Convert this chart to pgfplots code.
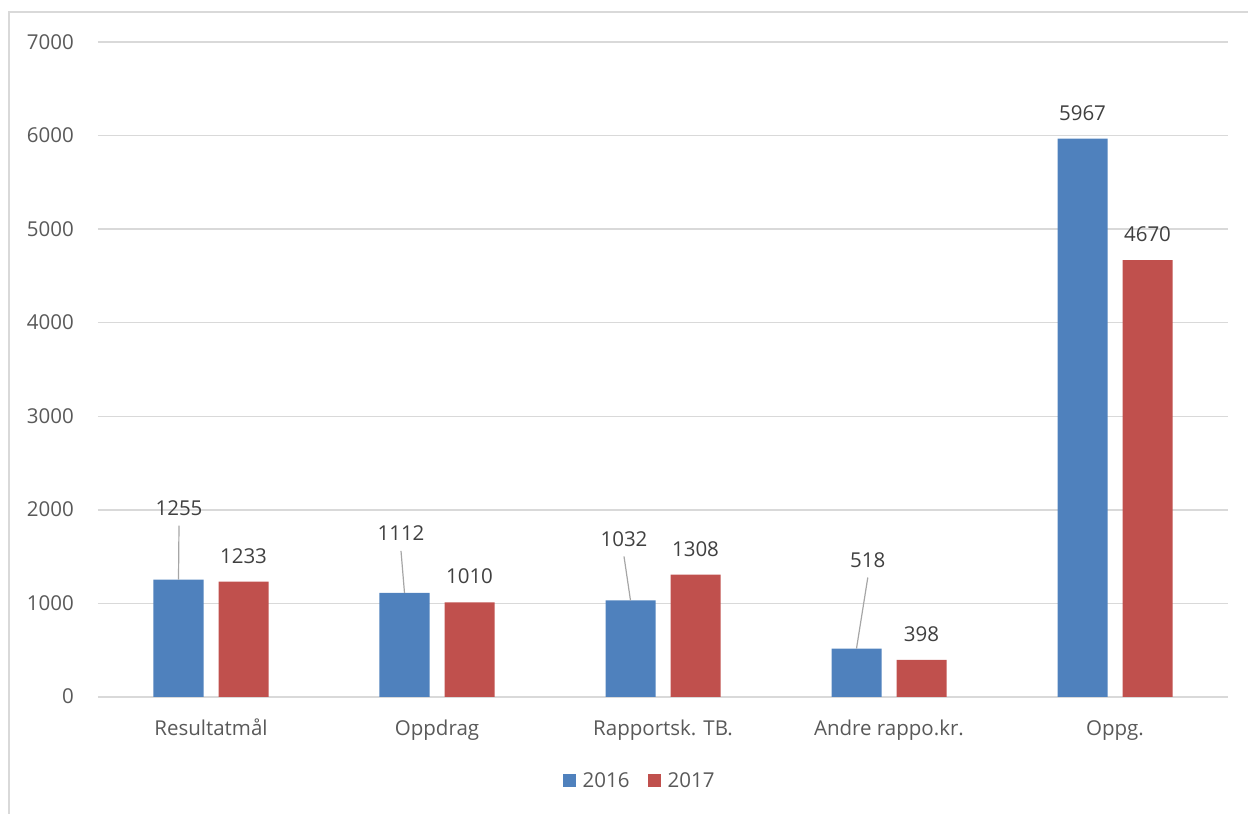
\documentclass[border=0pt]{standalone}
\usepackage{fontspec}
\setmainfont{Open Sans}
\usepackage{pgfplots}
\pgfplotsset{compat=1.18}
\definecolor{gridc}{HTML}{D9D9D9}
\definecolor{tickc}{HTML}{595959}
\definecolor{labc}{HTML}{404040}
\definecolor{blueb}{HTML}{4F81BD}
\definecolor{redb}{HTML}{C0504D}
\definecolor{leadc}{HTML}{A6A6A6}
\newcommand{\cf}{\fontsize{20.5}{24}\selectfont}
\begin{document}
\begin{tikzpicture}
\useasboundingbox (0,0) rectangle (1248pt,814pt);
\draw[gridc, line width=2pt] (9pt,-5pt) -- (9pt,802pt) -- (1260pt,802pt);
\begin{axis}[
  at={(98pt,117pt)}, anchor=south west,
  scale only axis, width=1130pt, height=655pt,
  xmin=-0.5, xmax=4.5, ymin=0, ymax=7000,
  ytick={0,1000,...,7000},
  xtick={0,1,2,3,4},
  xticklabels={Resultatmål,Oppdrag,Rapportsk. TB.,Andre rappo.kr.,Oppg.},
  scaled y ticks=false,
  /pgf/number format/1000 sep={},
  /pgf/number format/assume math mode=true,
  axis line style={draw=none},
  major tick length=0pt,
  ymajorgrids, major grid style={gridc, line width=1.5pt},
  yticklabel style={font=\cf, color=tickc, inner sep=0pt, anchor=base east, xshift=-24pt, yshift=-7pt},
  xticklabel style={font=\cf, color=tickc, inner sep=0pt, anchor=base, yshift=-38pt},
  ybar, bar width=50pt,
  clip=false,
  legend columns=2,
  legend style={at={(0.4815,-0.128)}, anchor=center, draw=none, font=\cf, text=tickc,
    /tikz/every even column/.append style={column sep=11pt},
    nodes={inner ysep=2pt, inner xsep=7pt}},
  nodes near coords={\pgfmathprintnumber[1000 sep={}]{\pgfplotspointmeta}},
  nodes near coords style={font=\cf, color=labc, inner sep=0pt, anchor=base,
    xshift=\dx pt, yshift=\dy pt},
  visualization depends on={\thisrow{dx} \as \dx},
  visualization depends on={\thisrow{dy} \as \dy},
]
\addplot[fill=blueb, draw=none, bar shift=-32.5pt,
  legend image code/.code={\fill[blueb] (0pt,-6.5pt) rectangle (13pt,6.5pt);}]
  table {
x y dx dy
0 1255 0.5 64.5
1 1112 -3.5 52
2 1032 -6.5 54
3 518 11.3 81
4 5967 0 18.5
};
\addlegendentry{2016}
\addplot[fill=redb, draw=none, bar shift=32.5pt,
  legend image code/.code={\fill[redb] (0pt,-6.5pt) rectangle (13pt,6.5pt);}]
  table {
x y dx dy
0 1233 0 18.5
1 1010 0 18.5
2 1308 0 18.5
3 398 0 18.5
4 4670 0 18.5
};
\addlegendentry{2017}
\draw[leadc, line width=1.2pt] ([xshift=-32.5pt]axis cs:0,1255) -- ([xshift=-32pt,yshift=54pt]axis cs:0,1255);
\draw[leadc, line width=1.2pt] ([xshift=-32.5pt]axis cs:1,1112) -- ([xshift=-36pt,yshift=42pt]axis cs:1,1112);
\draw[leadc, line width=1.2pt] ([xshift=-32.5pt]axis cs:2,1032) -- ([xshift=-39pt,yshift=44pt]axis cs:2,1032);
\draw[leadc, line width=1.2pt] ([xshift=-32.5pt]axis cs:3,518) -- ([xshift=-21.2pt,yshift=71pt]axis cs:3,518);
\end{axis}
\end{tikzpicture}
\end{document}
